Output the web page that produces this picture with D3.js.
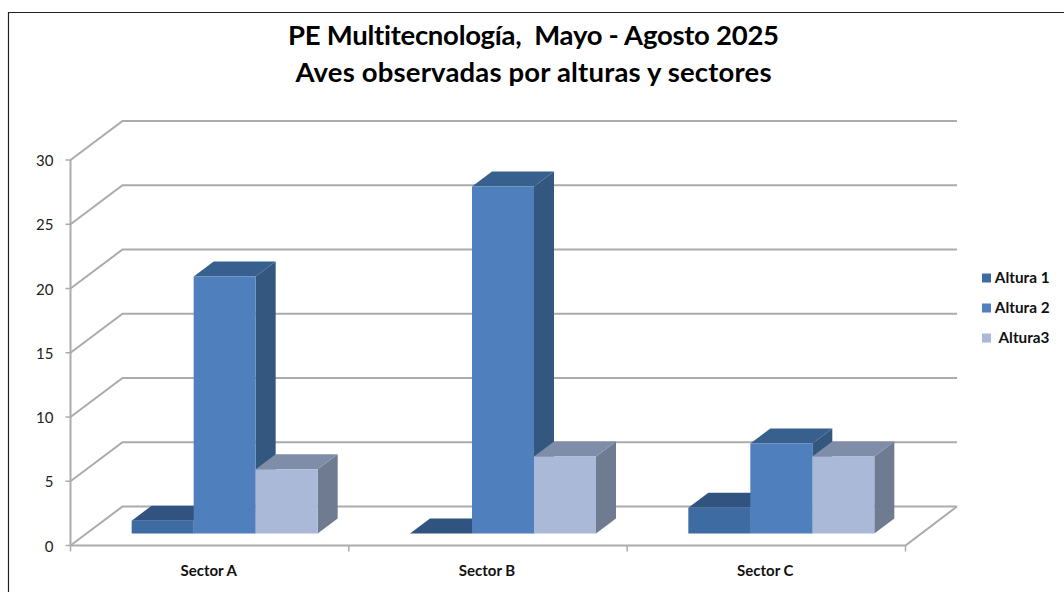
<!DOCTYPE html>
<html><head><meta charset="utf-8">
<script src="https://cdn.jsdelivr.net/npm/d3@7"></script>
<style>html,body{margin:0;padding:0;background:#fff;overflow:hidden}svg{display:block}text{font-family:Lato,"Open Sans",sans-serif;font-variant-ligatures:none;white-space:pre}</style>
</head><body><svg id="c" width="1064" height="592"></svg>
<script>
const titleLines = ["PE Multitecnología,  Mayo - Agosto 2025", "Aves observadas por alturas y sectores"];
const categories = ["Sector A", "Sector B", "Sector C"];
const seriesNames = ["Altura 1", "Altura 2", "Altura3"];
const altura1 = [1, 0, 2];
const altura2 = [20, 27, 7];
const altura3 = [5, 6, 6];
const yTicks = [0, 5, 10, 15, 20, 25, 30];
const seriesValues = [altura1, altura2, altura3];
const fronts = ["#3f6ba3", "#4f80bd", "#aab9d8"];
const tops = ["#30547f", "#37608f", "#7f8da8"];
const sides = ["#2f5179", "#33577f", "#6f7b90"];

const svg = d3.select("#c");
const wall = {dx: 52, dy: -39}, floorOff = {dx: 15, dy: -12}, barDepth = {dx: 20, dy: -15};
const x = d3.scaleBand().domain(categories).range([70.5, 905.5]);
const y = d3.scaleLinear().domain([0, 30]).range([545.5, 160]);
const inner = d3.scaleBand().domain(d3.range(3)).range([0, 186]);
const grey = "#ababab";

// frame
svg.append("path").attr("d", "M8.5 592V12.5H1064").attr("fill", "none").attr("stroke", "#222").attr("stroke-width", 1.2);

// title
const titleWidths = [491, 476];
svg.append("g").selectAll("text").data(titleLines).join("text")
  .attr("x", 533.5).attr("y", (d, i) => 45 + i * 37).attr("text-anchor", "middle")
  .attr("font-size", 27.5).attr("font-weight", 700).attr("fill", "#000")
  .attr("textLength", (d, i) => titleWidths[i]).attr("lengthAdjust", "spacing").text(d => d);

// walls
const grid = svg.append("g").attr("fill", "none").attr("stroke", grey).attr("stroke-width", 2);
yTicks.forEach(v => {
  grid.append("path").attr("d", d3.line()([[x.range()[0], y(v)], [x.range()[0] + wall.dx, y(v) + wall.dy], [957, y(v) + wall.dy]]));
  grid.append("path").attr("stroke-width", 1.5).attr("d", d3.line()([[x.range()[0] - 5, y(v)], [x.range()[0], y(v)]]));
});
grid.append("path").attr("d", d3.line()([[x.range()[0], y(0)], [x.range()[0], y(30)]]));
grid.append("path").attr("d", d3.line()([[x.range()[0], y(0)], [x.range()[1], y(0)], [957, y(0) + wall.dy]]));
x.domain().concat(["end"]).forEach((c, i) => {
  const tx = x.range()[0] + i * x.step();
  grid.append("path").attr("stroke-width", 1.5).attr("d", d3.line()([[tx, y(0)], [tx, y(0) + 6]]));
});

// tick labels
svg.append("g").selectAll("text").data(yTicks).join("text")
  .attr("x", 53.5).attr("y", d => y(d) + 6).attr("text-anchor", "end")
  .attr("font-size", 15).attr("fill", "#222").text(d => d);

// bars
const barsG = svg.append("g");
categories.forEach((c, ci) => {
  const x0 = x(c) + (x.bandwidth() - inner.range()[1]) / 2 + floorOff.dx;
  const base = y(0) + floorOff.dy;
  const h = v => y(0) - y(v);
  seriesValues.forEach((vals, si) => {
    const v = vals[ci];
    const l = x0 + inner(si), r = l + inner.bandwidth(), t = base - h(v);
    const g = barsG.append("g");
    g.append("path").attr("fill", sides[si]).attr("d", d3.line()([[r, base], [r + barDepth.dx, base + barDepth.dy], [r + barDepth.dx, t + barDepth.dy], [r, t]]) + "Z");
    g.append("path").attr("fill", tops[si]).attr("d", d3.line()([[l, t], [l + barDepth.dx, t + barDepth.dy], [r + barDepth.dx, t + barDepth.dy], [r, t]]) + "Z");
    g.append("rect").attr("x", l).attr("y", t).attr("width", inner.bandwidth()).attr("height", h(v)).attr("fill", fronts[si]);
  });
});

// category labels
svg.append("g").selectAll("text").data(categories).join("text")
  .attr("x", d => x(d) + x.bandwidth() / 2 - 1).attr("y", 576).attr("text-anchor", "middle")
  .attr("font-size", 15).attr("font-weight", 700).attr("fill", "#111").text(d => d);

// legend
const lg = svg.append("g").selectAll("g").data(seriesNames).join("g")
  .attr("transform", (d, i) => `translate(0,${278 + i * 30})`);
lg.append("rect").attr("x", 982).attr("y", -4.5).attr("width", 9).attr("height", 9).attr("fill", (d, i) => fronts[i]);
lg.append("text").attr("x", 1049.5).attr("y", 5).attr("text-anchor", "end")
  .attr("font-size", 15.3).attr("font-weight", 700).attr("fill", "#111").text(d => d);
</script></body></html>
